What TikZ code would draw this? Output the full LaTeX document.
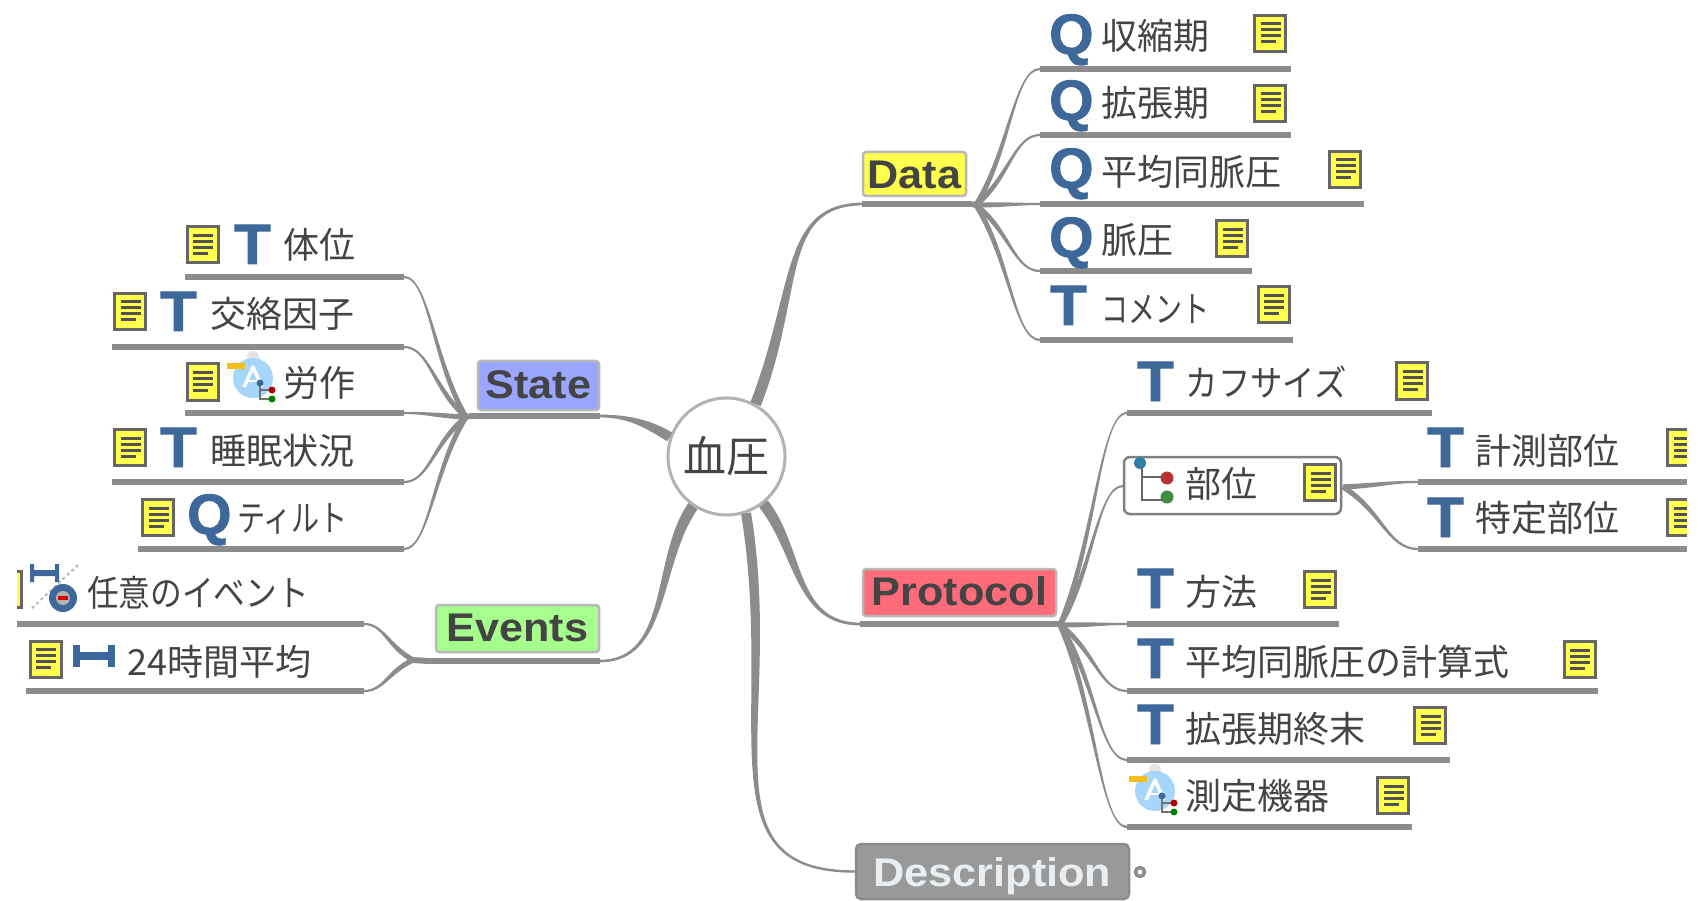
\documentclass[tikz,border=0pt]{standalone}
\usepackage{fontspec}
\setmainfont{Liberation Sans}
\newfontfamily\cjk{Noto Sans CJK JP}
\newfontfamily\iconf[BoldFeatures={FakeBold=1.5}]{Liberation Sans}
\usetikzlibrary{calc}
\definecolor{linegrey}{HTML}{8C8C8C}
\definecolor{txt}{HTML}{444444}
\definecolor{iconblue}{HTML}{3D6899}
\definecolor{notey}{HTML}{FFFF4D}
\definecolor{aiblue}{HTML}{A6D6FB}
\definecolor{aiyellow}{HTML}{F4BE1E}
\definecolor{dataY}{HTML}{FFFF4D}
\definecolor{stateB}{HTML}{9AA6FF}
\definecolor{eventG}{HTML}{A6FF8C}
\definecolor{protoR}{HTML}{FF6B78}
\definecolor{descT}{HTML}{E8EEF2}
\tikzset{
  uline/.style={draw=linegrey,line width=6pt},
  conn/.style={fill=linegrey},
  lbl/.style={anchor=base west,inner sep=0pt,text=txt,font=\cjk\fontsize{36}{36}\selectfont},
  ticon/.style={anchor=base west,inner sep=0pt,text=iconblue,font=\iconf\bfseries\fontsize{57}{57}\selectfont},
  boxn/.style={rectangle,rounded corners=3pt,draw=black!28,line width=2.5pt,inner sep=0pt,text=txt,
    font=\bfseries\fontsize{40}{40}\selectfont,text height=29pt,text depth=0pt},
  noteicon/.style={rectangle,draw=black!60,fill=notey,line width=3pt,minimum width=31pt,minimum height=36pt,inner sep=0pt,
    path picture={
      \draw[black!68,line width=3pt]
        ($(path picture bounding box.north west)+(6,8.5)$) -- ++(20,0)
        ($(path picture bounding box.north west)+(6,14.5)$) -- ++(20,0)
        ($(path picture bounding box.north west)+(6,20.5)$) -- ++(20,0)
        ($(path picture bounding box.north west)+(6,26.5)$) -- ++(15,0);
    }},
  aicon/.pic={
    \fill[black!10] (0,-21) circle (6);
    \fill[aiblue] (0,0) circle (20);
    \draw[white,line width=3.5pt,line join=round] (-9,9) -- (0,-11) -- (9,9);
    \draw[white,line width=2.5pt] (-5,3) -- (5,3);
    \fill[aiyellow] (-26,-15) rectangle (-8,-9);
    \draw[black!55,line width=2pt] (7,5) -- (7,21) -- (19,21) (7,12) -- (19,12);
    \fill[iconblue] (7,5) circle (3.5);
    \fill[red!70!black] (19,12) circle (3.5);
    \fill[green!50!black] (19,21) circle (3.5);
  },
  rangeicon/.pic={
    \fill[iconblue] (-21,-11) rectangle (-14,11);
    \fill[iconblue] (14,-11) rectangle (21,11);
    \fill[iconblue] (-14,-4) rectangle (14,4);
  }
}
% tapered connector: start, control 1, control 2, end, half width at start, half width at end
\newcommand\taper[6]{%
  \fill[conn] ($(#1)!#5!90:(#2)$) .. controls ($(#2)!#5!-90:(#1)$) and ($(#3)!#6!90:(#4)$) .. ($(#4)!#6!-90:(#3)$)
    -- ($(#4)!#6!90:(#3)$) .. controls ($(#3)!#6!-90:(#4)$) and ($(#2)!#5!90:(#1)$) .. ($(#1)!#5!-90:(#2)$) -- cycle;}
\newcommand\leafconn[2]{%
  \path let \p1=(#1), \p2=(#2) in
    coordinate (cA) at ({\x1+.53*(\x2-\x1)},{\y1+.4*(\y2-\y1)})
    coordinate (cB) at ({\x1+.6*(\x2-\x1)},\y2);
  \taper{#1}{cA}{cB}{#2}{2.6pt}{1.1pt}}
\newcommand\leafline[4]{%
  \coordinate (#1s) at (#2,#4);
  \coordinate (#1e) at (#3,#4);
  \draw[uline] (#1s) -- (#1e);}
\newcommand\tee{\scalebox{1.05}[1]{T}}
\begin{document}
\begin{tikzpicture}[x=1pt,y=-1pt]
\useasboundingbox (0,0) rectangle (1698,901);
\fill[white] (0,0) rectangle (1698,901);

% central topic
\node[circle,draw=black!30,fill=white,line width=3pt,minimum size=117pt,inner sep=0pt,text=txt,
  font=\cjk\fontsize{43}{43}\selectfont] (root) at (726.5,456.5) {血圧};

% main topic boxes
\node[boxn,fill=dataY,minimum width=103pt,minimum height=44pt] (data) at (914.5,174) {\scalebox{1.08}[1]{Data}};
\node[boxn,fill=stateB,minimum width=121pt,minimum height=49pt,text depth=4pt] (state) at (538.5,385.5) {\scalebox{1.08}[1]{State}};
\node[boxn,fill=eventG,minimum width=163pt,minimum height=47pt,text depth=4pt] (events) at (517.5,628.5) {\scalebox{1.08}[1]{Events}};
\node[boxn,fill=protoR,minimum width=193pt,minimum height=47pt,text depth=4pt] (protocol) at (959.5,592.5) {\scalebox{1.08}[1]{Protocol}};
\node[boxn,rounded corners=5pt,fill=black!40,draw=black!45,text=descT,minimum width=273pt,minimum height=55pt] (description) at (992.5,871.5) {\scalebox{1.08}[1]{Description}};
\node[circle,draw=black!45,fill=white,line width=3.5pt,minimum size=9pt,inner sep=0pt] (descdot) at (1140,872) {};

% main topic underlines
\leafline{dataL}{862}{972}{204}
\leafline{stateL}{469}{600}{416}
\leafline{eventsL}{428}{600}{661}
\leafline{protoL}{860}{1060}{624}
\coordinate (hubData) at (976,205);
\coordinate (hubState) at (466,417);
\coordinate (hubEvents) at (413,660);
\coordinate (hubProto) at (1060,625);
\draw[uline] (dataLe) -- (hubData);
\draw[uline] (stateLs) -- (hubState);
\draw[uline] (eventsLs) -- (hubEvents);

% connectors from the central topic
\taper{root.61}{800,290}{780,205}{dataLs}{5.5pt}{1.4pt}
\taper{root.161}{650,425}{630,416}{stateLe}{5pt}{1.4pt}
\taper{root.236}{655,560}{670,661}{eventsLe}{5.5pt}{1.3pt}
\taper{root.308}{800,550}{795,624}{protoLs}{5.5pt}{1.4pt}
\taper{root.289}{780,720}{700,872}{description.west}{5pt}{1.2pt}

% --- Data branch
\leafline{a}{1040}{1291}{69}
\leafline{b}{1040}{1291}{135}
\leafline{c}{1040}{1364}{204}
\leafline{d}{1040}{1252}{271}
\leafline{e}{1040}{1293}{340}
\leafconn{hubData}{as}\leafconn{hubData}{bs}\leafconn{hubData}{cs}\leafconn{hubData}{ds}\leafconn{hubData}{es}
\node[ticon] (ai) at (1049,54) {Q};
\node[lbl] (at) at (1101,50) {収縮期};
\node[noteicon] (an) at (1270,33.5) {};
\node[ticon] (bi) at (1049,120) {Q};
\node[lbl] (bt) at (1101,117) {拡張期};
\node[noteicon] (bn) at (1270,103.5) {};
\node[ticon] (ci) at (1049,188) {Q};
\node[lbl] (ct) at (1101,186) {平均同脈圧};
\node[noteicon] (cn) at (1345,169.5) {};
\node[ticon] (di) at (1049,257) {Q};
\node[lbl] (dt) at (1101,254) {脈圧};
\node[noteicon] (dn) at (1232,239) {};
\node[ticon] (ei) at (1050,325) {\tee};
\node[lbl] (et) at (1101,323) {\scalebox{.75}[1]{コメント}};
\node[noteicon] (en) at (1273.5,305) {};

% --- Protocol branch
\leafline{f}{1127}{1432}{413}
\coordinate (gs) at (1123,486);
\leafline{h}{1127}{1339}{624}
\leafline{i}{1127}{1598}{691}
\leafline{j}{1127}{1450}{760}
\leafline{k}{1127}{1412}{827}
\leafconn{hubProto}{fs}\leafconn{hubProto}{gs}\leafconn{hubProto}{hs}\leafconn{hubProto}{is}\leafconn{hubProto}{js}\leafconn{hubProto}{ks}
\node[ticon] (fi) at (1137,401) {\tee};
\node[lbl] (ft) at (1185.5,396) {\scalebox{.9}[1]{カフサイズ}};
\node[noteicon] (fn) at (1412,381) {};

\node[rectangle,rounded corners=6pt,draw=black!50,fill=white,line width=2.5pt,minimum width=217pt,minimum height=57pt,inner sep=0pt] (g) at (1232.5,485.5) {};
\draw[black!60,line width=2.5pt] (1142,463) -- (1142,500) -- (1162,500) (1142,477) -- (1162,477);
\fill[iconblue!85!cyan] (1140,463) circle (6);
\fill[red!65!black!80] (1167,478) circle (6.5);
\fill[green!40!black!75] (1167,497) circle (6.5);
\node[lbl] (gt) at (1185.5,497.5) {部位};
\node[noteicon] (gn) at (1320,482.5) {};

\leafline{m}{1418}{1700}{482}
\leafline{n}{1418}{1700}{549}
\coordinate (hubG) at (1343,487);
\leafconn{hubG}{ms}\leafconn{hubG}{ns}
\node[ticon] (mi) at (1427,467) {\tee};
\node[lbl] (mt) at (1475,464) {計測部位};
\node[noteicon] (mn) at (1683,447.5) {};
\node[ticon] (ni) at (1427,537) {\tee};
\node[lbl] (nt) at (1475,531) {特定部位};
\node[noteicon] (nn) at (1683,517.5) {};

\node[ticon] (hi) at (1137,608) {\tee};
\node[lbl] (ht) at (1185.5,605) {方法};
\node[noteicon] (hn) at (1320,589.5) {};
\node[ticon] (ii) at (1137,678) {\tee};
\node[lbl] (it) at (1185.5,675) {平均同脈圧の計算式};
\node[noteicon] (in) at (1579.5,659.5) {};
\node[ticon] (ji) at (1137,744) {\tee};
\node[lbl] (jt) at (1185.5,742) {拡張期終末};
\node[noteicon] (jn) at (1430,725.5) {};
\pic at (1155,791) {aicon};
\node[lbl] (kt) at (1185.5,809) {測定機器};
\node[noteicon] (kn) at (1393,795.5) {};

% --- State branch
\leafline{p}{185}{404}{277}
\leafline{q}{112}{404}{347}
\leafline{r}{185}{404}{413}
\leafline{s}{112}{404}{482}
\leafline{t}{138}{404}{549}
\leafconn{hubState}{pe}\leafconn{hubState}{qe}\leafconn{hubState}{re}\leafconn{hubState}{se}\leafconn{hubState}{te}
\node[noteicon] (pn) at (202.5,245) {};
\node[ticon] (pi) at (234,264) {\tee};
\node[lbl] (pt) at (283,259) {体位};
\node[noteicon] (qn) at (130,311.5) {};
\node[ticon] (qi) at (160,331) {\tee};
\node[lbl] (qt) at (210,328) {交絡因子};
\node[noteicon] (rn) at (202.5,382) {};
\pic at (253,378) {aicon};
\node[lbl] (rt) at (283,396) {労作};
\node[noteicon] (sn) at (130,447.5) {};
\node[ticon] (si) at (160,467) {\tee};
\node[lbl] (st) at (210,464) {睡眠状況};
\node[noteicon] (tn) at (158,517.5) {};
\node[ticon] (ti) at (187,534) {Q};
\node[lbl] (tt) at (237,531) {\scalebox{.78}[1]{ティルト}};

% --- Events branch
\leafline{u}{17}{364}{624}
\leafline{v}{26}{364}{691}
\leafconn{hubEvents}{ue}\leafconn{hubEvents}{ve}
\begin{scope}
  \clip (17,560) rectangle (28,620);
  \node[noteicon] (un) at (6,589) {};
\end{scope}
\draw[black!28,line width=2pt,dashed] (78,565) -- (30,610);
\fill[iconblue] (30,564) rectangle (34,582) (55,564) rectangle (59,582) (32,570) rectangle (57,576);
\fill[iconblue] (63,598) circle (14);
\fill[black!30] (63,598) circle (7);
\fill[red!85!black] (58,596) rectangle (68,600);
\node[lbl] (ut) at (87,606) {\scalebox{.88}[1]{任意のイベント}};
\node[noteicon] (vn) at (45.5,659) {};
\pic at (94,656) {rangeicon};
\node[lbl] (vt) at (127,675) {24時間平均};
% the picture stops short of the right margin
\fill[white] (1687,0) rectangle (1698,901);
\end{tikzpicture}
\end{document}
